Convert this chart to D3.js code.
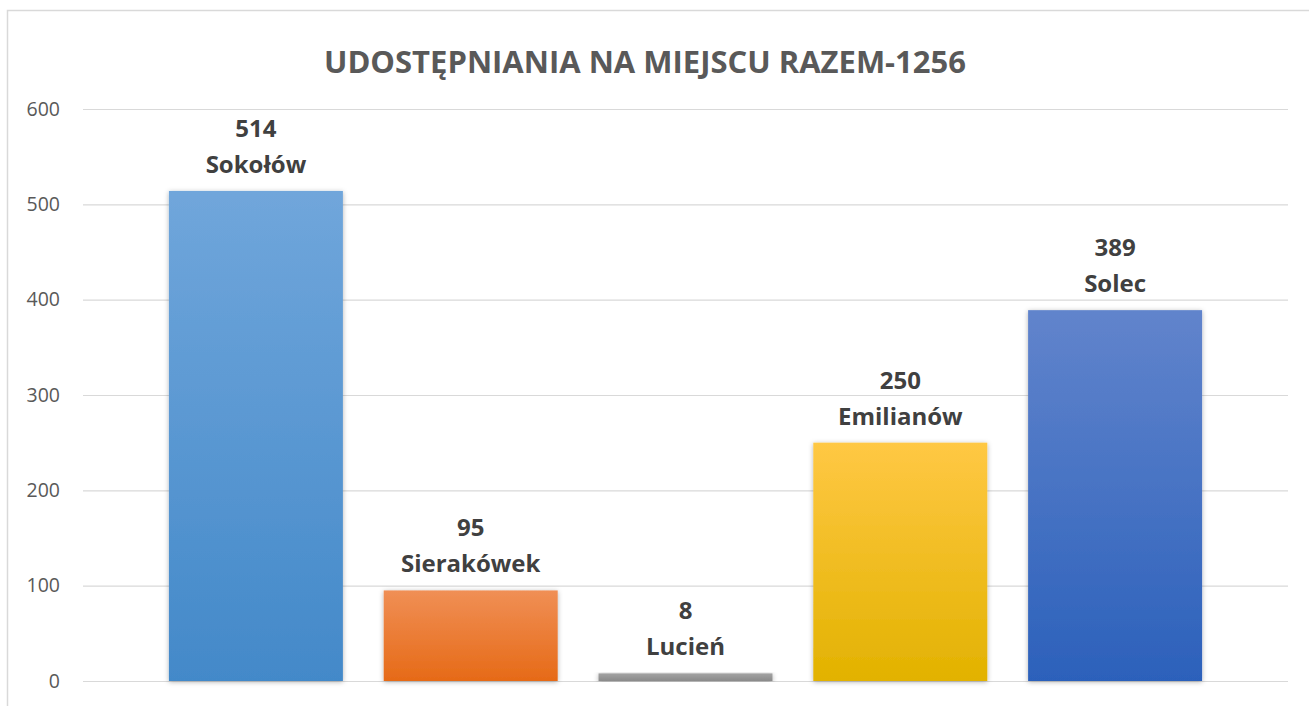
<!DOCTYPE html>
<html>
<head>
<meta charset="utf-8">
<script src="https://cdn.jsdelivr.net/npm/d3@7"></script>
<style>
  body { margin: 0; background: #fff; }
  svg { display: block; }
</style>
</head>
<body>
<div id="chart"></div>
<script>
const categories = ['Sokołów', 'Sierakówek', 'Lucień', 'Emilianów', 'Solec'];
const values = [514, 95, 8, 250, 389];
const yTicks = [0, 100, 200, 300, 400, 500, 600];
const title = 'UDOSTĘPNIANIA NA MIEJSCU RAZEM-1256';
// top / bottom of each bar's gradient
const colorsTop = ['#70a6db', '#f08f55', '#a3a3a3', '#ffc844', '#6184cc'];
const colorsBottom = ['#4389c9', '#e66a17', '#8a8a8a', '#e2b200', '#2c61bb'];

const width = 1309;
const height = 706;

const svg = d3.select('#chart')
  .append('svg')
  .attr('width', width)
  .attr('height', height);

const defs = svg.append('defs');

categories.forEach((c, i) => {
  const grad = defs.append('linearGradient')
    .attr('id', 'grad' + i)
    .attr('x1', 0).attr('y1', 0)
    .attr('x2', 0).attr('y2', 1);
  grad.append('stop').attr('offset', '0%').attr('stop-color', colorsTop[i]);
  grad.append('stop').attr('offset', '100%').attr('stop-color', colorsBottom[i]);
});

const shadow = defs.append('filter')
  .attr('id', 'shadow')
  .attr('x', '-10%').attr('y', '-10%')
  .attr('width', '120%').attr('height', '120%');
shadow.append('feDropShadow')
  .attr('dx', 0).attr('dy', 1)
  .attr('stdDeviation', 2.5)
  .attr('flood-color', '#000')
  .attr('flood-opacity', 0.3);

// chart border (runs past the picture on the right and bottom)
svg.append('rect')
  .attr('x', 7.5).attr('y', 10.5)
  .attr('width', 1330).attr('height', 730)
  .attr('fill', 'none')
  .attr('stroke', '#d9d9d9')
  .attr('stroke-width', 1.5);

svg.append('text')
  .attr('x', 645)
  .attr('y', 73)
  .attr('text-anchor', 'middle')
  .attr('font-family', 'Open Sans, sans-serif')
  .attr('font-weight', 'bold')
  .attr('font-size', 31)
  .attr('fill', '#595959')
  .text(title);

const y = d3.scaleLinear()
  .domain([0, 600])
  .range([681, 109]);

const x = d3.scaleBand()
  .domain(categories)
  .range([148.5, 1222.5])
  .paddingInner(0.19)
  .paddingOuter(0.095);

const yAxis = d3.axisLeft(y)
  .tickValues(yTicks)
  .tickSize(-(1288 - 83))
  .tickPadding(23);

const axisG = svg.append('g')
  .attr('transform', 'translate(83,0)')
  .call(yAxis);

axisG.select('.domain').remove();
axisG.selectAll('.tick line')
  .attr('stroke', '#d9d9d9')
  .attr('stroke-width', 1.2);
axisG.selectAll('.tick text')
  .attr('fill', '#595959')
  .attr('font-family', 'Open Sans, sans-serif')
  .attr('font-size', 19.5);

const bars = svg.append('g').attr('class', 'bars');

bars.selectAll('rect')
  .data(values)
  .enter()
  .append('rect')
  .attr('x', (d, i) => x(categories[i]))
  .attr('y', (d) => y(d))
  .attr('width', x.bandwidth())
  .attr('height', (d) => y(0) - y(d))
  .attr('fill', (d, i) => `url(#grad${i})`)
  .attr('filter', 'url(#shadow)');

const labels = svg.append('g').attr('class', 'labels')
  .attr('font-family', 'Open Sans, sans-serif')
  .attr('font-weight', 'bold')
  .attr('font-size', 24)
  .attr('fill', '#404040')
  .attr('text-anchor', 'middle');

values.forEach((v, i) => {
  const cx = x(categories[i]) + x.bandwidth() / 2;
  labels.append('text')
    .attr('x', cx)
    .attr('y', y(v) - 54)
    .text(v);
  labels.append('text')
    .attr('x', cx)
    .attr('y', y(v) - 18)
    .text(categories[i]);
});
</script>
</body>
</html>
